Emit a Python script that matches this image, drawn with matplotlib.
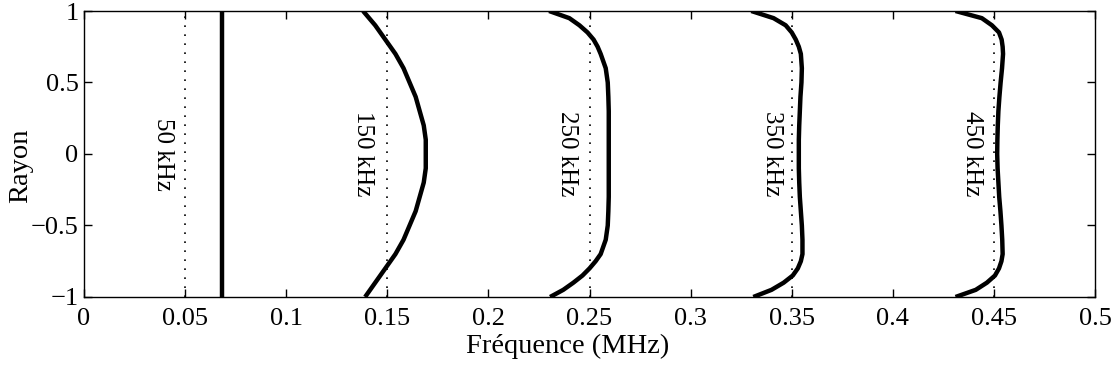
import matplotlib
matplotlib.use("Agg")
import matplotlib.pyplot as plt

plt.rcParams['font.family'] = ['Liberation Serif', 'DejaVu Serif']

# radius positions (shared by all curves)
rayon = [1.0, 0.95, 0.9, 0.85, 0.8, 0.75, 0.7, 0.6, 0.5, 0.4, 0.3, 0.2, 0.1, 0.0,
         -0.1, -0.2, -0.3, -0.4, -0.5, -0.6, -0.7, -0.75, -0.8, -0.85, -0.9, -0.95, -1.0]

# frequency (MHz) of each curve at the radius positions above
f_50 = [0.068] * len(rayon)
f_150 = [0.138, 0.141, 0.144, 0.1465, 0.149, 0.1515, 0.154, 0.158, 0.161, 0.164, 0.166, 0.168, 0.169, 0.169,
         0.169, 0.168, 0.166, 0.164, 0.161, 0.158, 0.154, 0.1515, 0.149, 0.1465, 0.144, 0.1415, 0.139]
f_250 = [0.230, 0.240, 0.245, 0.249, 0.252, 0.254, 0.2555, 0.258, 0.259, 0.2593, 0.2595, 0.2595, 0.2595, 0.2595,
         0.2595, 0.2595, 0.2595, 0.2593, 0.259, 0.258, 0.2555, 0.253, 0.250, 0.2465, 0.242, 0.237, 0.2305]
f_350 = [0.330, 0.341, 0.347, 0.350, 0.352, 0.3535, 0.3545, 0.355, 0.3548, 0.3543, 0.354, 0.3537, 0.3535, 0.3535,
         0.3535, 0.3537, 0.354, 0.3545, 0.355, 0.3553, 0.3553, 0.3545, 0.353, 0.3505, 0.346, 0.340, 0.331]
f_450 = [0.431, 0.444, 0.449, 0.4525, 0.4538, 0.4543, 0.4545, 0.454, 0.4533, 0.4527, 0.4522, 0.4519, 0.4517, 0.4516,
         0.4518, 0.4522, 0.4526, 0.4532, 0.4537, 0.4541, 0.4543, 0.4537, 0.4525, 0.4505, 0.4465, 0.441, 0.431]
curves = [f_50, f_150, f_250, f_350, f_450]

# reference frequencies (dotted lines) and their labels
ref_freq = [0.05, 0.15, 0.25, 0.35, 0.45]
ref_labels = ['50 kHz', '150 kHz', '250 kHz', '350 kHz', '450 kHz']
label_x = [0.039, 0.138, 0.239, 0.340, 0.439]

xticks = [0, 0.05, 0.1, 0.15, 0.2, 0.25, 0.3, 0.35, 0.4, 0.45, 0.5]
xtick_labels = ['0', '0.05', '0.1', '0.15', '0.2', '0.25', '0.3', '0.35', '0.4', '0.45', '0.5']
yticks = [-1, -0.5, 0, 0.5, 1]
ytick_labels = ['\u22121', '\u22120.5', '0', '0.5', '1']

fig = plt.figure(figsize=(11.19, 3.73), dpi=100)
ax = fig.add_axes([0.0751, 0.2038, 0.9035, 0.7667])

for f in ref_freq:
    ax.axvline(f, color='black', lw=1.2, linestyle=(0, (1, 4.4)))

for f in curves:
    ax.plot(f, rayon, color='black', lw=3.2, solid_capstyle='butt')

for x, lab in zip(label_x, ref_labels):
    ax.text(x, 0.0, lab, rotation=270, ha='center', va='center', fontsize=18)

ax.set_xlim(0, 0.5)
ax.set_ylim(-1, 1)
ax.set_xticks(xticks)
ax.set_xticklabels(xtick_labels)
ax.set_yticks(yticks)
ax.set_yticklabels(ytick_labels)
ax.tick_params(direction='in', length=6, width=1, top=True, right=True, labelsize=19)
ax.tick_params(axis='x', pad=8)
ax.tick_params(axis='y', pad=4)
for s in ax.spines.values():
    s.set_linewidth(1.0)

ax.set_xlabel('Fréquence (MHz)', fontsize=20.5)
ax.xaxis.set_label_coords(0.478, -0.13)
ax.set_ylabel('Rayon', fontsize=20.5)
ax.yaxis.set_label_coords(-0.05, 0.458)

fig.savefig('out.png', dpi=100)
